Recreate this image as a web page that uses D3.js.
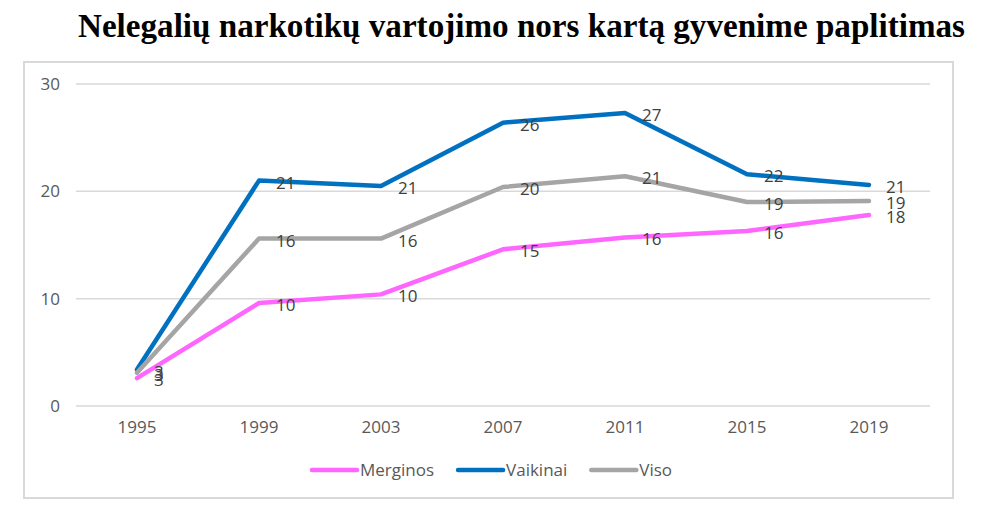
<!DOCTYPE html>
<html>
<head>
<meta charset="utf-8">
<script src="https://cdn.jsdelivr.net/npm/d3@7"></script>
<style>
  body { margin: 0; background: #fff; }
  svg text { font-family: "Open Sans", sans-serif; }
</style>
</head>
<body>
<div id="chart"></div>
<script>
var years = ['1995', '1999', '2003', '2007', '2011', '2015', '2019'];
var merginos = [2.6, 9.6, 10.4, 14.6, 15.7, 16.3, 17.8];
var vaikinai = [3.4, 21.0, 20.5, 26.4, 27.3, 21.6, 20.6];
var viso = [3.1, 15.6, 15.6, 20.4, 21.4, 19.0, 19.1];
var yTicks = [0, 10, 20, 30];
var title = 'Nelegalių narkotikų vartojimo nors kartą gyvenime paplitimas';

var series = [
    { name: 'Merginos', values: merginos, color: '#FF66FF' },
    { name: 'Vaikinai', values: vaikinai, color: '#0070C0' },
    { name: 'Viso', values: viso, color: '#A5A5A5' }
];

var width = 987, height = 522;
var plotLeft = 76, plotRight = 930, plotTop = 84, plotBottom = 406;

var svg = d3.select('#chart').append('svg')
    .attr('width', width).attr('height', height);

// title
svg.append('text')
    .attr('x', 78).attr('y', 37)
    .attr('textLength', 887)
    .attr('lengthAdjust', 'spacingAndGlyphs')
    .style('font-family', '"Liberation Serif", "Times New Roman", serif')
    .style('font-weight', 'bold')
    .style('font-size', '33px')
    .attr('fill', '#000')
    .text(title);

// chart area border
svg.append('rect')
    .attr('x', 24).attr('y', 62)
    .attr('width', 929).attr('height', 436)
    .attr('fill', 'none')
    .attr('stroke', '#D9D9D9')
    .attr('stroke-width', 2);

var x = d3.scaleBand().domain(years).range([plotLeft, plotRight]);
var y = d3.scaleLinear().domain([0, 30]).range([plotBottom, plotTop]);

// gridlines
svg.append('g').selectAll('line')
    .data(yTicks)
    .enter()
    .append('line')
    .attr('x1', plotLeft).attr('x2', plotRight)
    .attr('y1', function (d) { return y(d); })
    .attr('y2', function (d) { return y(d); })
    .attr('stroke', '#D9D9D9')
    .attr('stroke-width', 1.5);

// y axis labels
var yAxis = svg.append('g')
    .attr('transform', 'translate(' + (plotLeft - 16) + ',0)')
    .call(d3.axisLeft(y).tickValues(yTicks).tickSize(0).tickPadding(0));
yAxis.select('.domain').remove();
yAxis.selectAll('text')
    .attr('fill', '#595959')
    .style('font-size', '17px')
    .style('font-family', '"Open Sans", sans-serif');

// x axis labels
var xAxis = svg.append('g')
    .attr('transform', 'translate(0,' + plotBottom + ')')
    .call(d3.axisBottom(x).tickSize(0).tickPadding(15));
xAxis.select('.domain').remove();
xAxis.selectAll('text')
    .attr('fill', '#595959')
    .style('font-size', '17px')
    .style('font-family', '"Open Sans", sans-serif');

var line = d3.line()
    .x(function (d, i) { return x(years[i]) + x.bandwidth() / 2; })
    .y(function (d) { return y(d); });

// lines
svg.append('g').selectAll('path')
    .data(series)
    .enter()
    .append('path')
    .attr('d', function (s) { return line(s.values); })
    .attr('fill', 'none')
    .attr('stroke', function (s) { return s.color; })
    .attr('stroke-width', 4.5)
    .attr('stroke-linejoin', 'round')
    .attr('stroke-linecap', 'round');

// data labels
series.forEach(function (s) {
    svg.append('g').selectAll('text')
        .data(s.values)
        .enter()
        .append('text')
        .attr('x', function (d, i) { return x(years[i]) + x.bandwidth() / 2 + 17; })
        .attr('y', function (d) { return y(d) + 8; })
        .attr('fill', '#404040')
        .style('font-size', '17px')
        .text(function (d) { return Math.round(d); });
});

// legend
var legend = svg.append('g');
var lx = 312, ly = 470;
series.forEach(function (s) {
    legend.append('line')
        .attr('x1', lx).attr('x2', lx + 45)
        .attr('y1', ly).attr('y2', ly)
        .attr('stroke', s.color)
        .attr('stroke-width', 4.5)
        .attr('stroke-linecap', 'round');
    var t = legend.append('text')
        .attr('x', lx + 48).attr('y', ly + 6)
        .attr('fill', '#595959')
        .style('font-size', '17px')
        .text(s.name);
    lx += 48 + t.node().getComputedTextLength() + 24;
});
</script>
</body>
</html>
